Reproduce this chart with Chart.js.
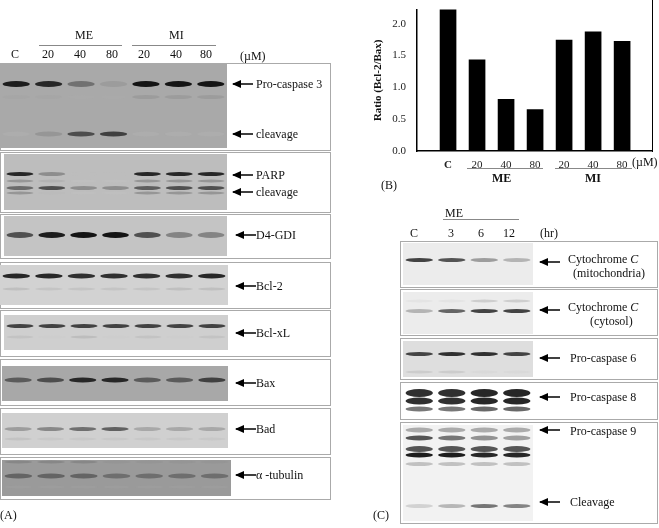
<!DOCTYPE html>
<html>
<head>
<meta charset="utf-8">
<script src="https://cdn.jsdelivr.net/npm/chart.js@4.4.1/dist/chart.umd.min.js"></script>
<style>
body { margin:0; background:#fff; font-family:"Liberation Serif","DejaVu Serif",serif; }
#page { position:relative; width:659px; height:528px; overflow:hidden; }
.t { position:absolute; font-size:12px; color:#111; white-space:nowrap; }
.b { font-weight:bold; }
.ln { position:absolute; background:#888; height:1px; }
</style>
</head>
<body>
<div id="page">
  <canvas id="blots" width="659" height="528" style="position:absolute;left:0;top:0"></canvas>
  <div style="position:absolute;left:370px;top:0;width:289px;height:175px">
    <canvas id="ratio"></canvas>
  </div>
  <div id="labels"></div>
</div>
<script>
// --- Panel B data: Bcl-2/Bax ratio
var groups = ['C', '20', '40', '80', '20', '40', '80'];
var ratioValues = [2.3, 1.43, 0.81, 0.65, 1.74, 1.87, 1.72];
var ratioTicks = [0.0, 0.5, 1.0, 1.5, 2.0];

// --- band intensities per lane (0..1), panel A: C, ME20, ME40, ME80, MI20, MI40, MI80
var procasp3 = [0.9, 0.85, 0.55, 0.3, 0.95, 0.95, 0.95];
var casp3Cleave = [0.1, 0.35, 0.7, 0.75, 0.1, 0.1, 0.1];
var parp = [0.85, 0.45, 0.05, 0.05, 0.85, 0.85, 0.85];
var parpCleave = [0.6, 0.7, 0.45, 0.45, 0.65, 0.7, 0.7];
var d4gdi = [0.7, 0.9, 0.95, 0.95, 0.7, 0.5, 0.5];
var bcl2 = [0.85, 0.85, 0.8, 0.8, 0.8, 0.8, 0.85];
var bclxl = [0.75, 0.75, 0.75, 0.75, 0.75, 0.75, 0.75];
var bax = [0.65, 0.7, 0.85, 0.85, 0.65, 0.65, 0.75];
var bad = [0.4, 0.5, 0.6, 0.65, 0.35, 0.35, 0.35];
var tubulin = [0.6, 0.6, 0.6, 0.55, 0.55, 0.55, 0.55];
// panel C: C, 3, 6, 12 hr
var cytMito = [0.75, 0.7, 0.45, 0.35];
var cytCyto = [0.35, 0.65, 0.75, 0.75];
var procasp6 = [0.75, 0.8, 0.8, 0.75];
var procasp8 = [0.8, 0.8, 0.85, 0.85];
var procasp9 = [0.7, 0.6, 0.5, 0.45];
var casp9Cleave = [0.2, 0.35, 0.6, 0.55];

var ctx2 = document.getElementById('blots').getContext('2d');

function blot(x, y, w, h, bg, lanes, bands) {
    ctx2.fillStyle = bg;
    ctx2.fillRect(x, y, w, h);
    var lw = w / lanes;
    bands.forEach(function (b) {
        b.v.forEach(function (v, i) {
            var cx = x + lw * (i + 0.5), by = y + b.y;
            var g = Math.round(200 - v * 190);
            ctx2.fillStyle = 'rgba(' + g + ',' + g + ',' + g + ',' + Math.min(1, v + 0.2) + ')';
            ctx2.beginPath();
            ctx2.ellipse(cx, by, lw * 0.42, b.t / 2, 0, 0, Math.PI * 2);
            ctx2.fill();
        });
    });
}
function frame(x, y, w, h) {
    ctx2.strokeStyle = '#aaa';
    ctx2.lineWidth = 1;
    ctx2.strokeRect(x + 0.5, y + 0.5, w, h);
}
function arrow(x, y) {
    ctx2.strokeStyle = '#000';
    ctx2.fillStyle = '#000';
    ctx2.lineWidth = 1.5;
    ctx2.beginPath(); ctx2.moveTo(x, y); ctx2.lineTo(x + 20, y); ctx2.stroke();
    ctx2.beginPath(); ctx2.moveTo(x - 1, y); ctx2.lineTo(x + 8, y - 4); ctx2.lineTo(x + 8, y + 4); ctx2.fill();
}
function label(x, y, text, cls) {
    var d = document.createElement('div');
    d.className = 't' + (cls ? ' ' + cls : '');
    d.style.left = x + 'px';
    d.style.top = y + 'px';
    d.innerHTML = text;
    document.getElementById('labels').appendChild(d);
}
function line(x, y, w) {
    var d = document.createElement('div');
    d.className = 'ln';
    d.style.left = x + 'px'; d.style.top = y + 'px'; d.style.width = w + 'px';
    document.getElementById('labels').appendChild(d);
}

// panel A
frame(0, 63, 330, 87);
blot(0, 64, 227, 84, '#a9a9a9', 7, [{y: 20, t: 6, v: procasp3}, {y: 33, t: 4, v: [0.2,0.2,0.15,0.15,0.3,0.3,0.3]}, {y: 70, t: 5, v: casp3Cleave}]);
frame(0, 152, 330, 60);
blot(4, 154, 223, 56, '#bdbdbd', 7, [{y: 20, t: 4, v: parp}, {y: 27, t: 3, v: [0.4,0.2,0,0,0.4,0.4,0.4]}, {y: 34, t: 4, v: parpCleave}, {y: 39, t: 3, v: [0.4,0.1,0,0,0.4,0.4,0.4]}]);
frame(0, 214, 330, 44);
blot(4, 216, 223, 40, '#c4c4c4', 7, [{y: 19, t: 6, v: d4gdi}]);
frame(0, 262, 330, 46);
blot(0, 265, 228, 40, '#d2d2d2', 7, [{y: 11, t: 5, v: bcl2}, {y: 24, t: 3, v: [0.2,0.15,0.15,0.15,0.15,0.2,0.2]}]);
frame(0, 310, 330, 46);
blot(4, 315, 224, 35, '#cfcfcf', 7, [{y: 11, t: 4, v: bclxl}, {y: 22, t: 3, v: [0.15,0,0.2,0,0.15,0,0.15]}]);
frame(0, 359, 330, 46);
blot(2, 366, 226, 35, '#a8a8a8', 7, [{y: 14, t: 5, v: bax}]);
frame(0, 408, 330, 46);
blot(2, 413, 226, 35, '#d0d0d0', 7, [{y: 16, t: 4, v: bad}, {y: 26, t: 3, v: [0.15,0.1,0.1,0.1,0.1,0.1,0.1]}]);
frame(0, 457, 330, 42);
blot(2, 460, 229, 36, '#9a9a9a', 7, [{y: 2, t: 3, v: [0.4,0.4,0.4,0.3,0.3,0.3,0.3]}, {y: 16, t: 5, v: tubulin}, {y: 27, t: 3, v: [0.2,0.2,0.2,0.2,0.2,0.2,0.2]}]);
arrow(233, 84); arrow(233, 134); arrow(233, 175); arrow(233, 192);
arrow(236, 235); arrow(236, 286); arrow(236, 333); arrow(236, 383); arrow(236, 429); arrow(236, 475);

label(11, 47, 'C'); label(42, 47, '20'); label(74, 47, '40'); label(106, 47, '80');
label(138, 47, '20'); label(170, 47, '40'); label(200, 47, '80'); label(240, 49, '(µM)');
label(75, 28, 'ME'); label(169, 28, 'MI');
line(39, 45, 83); line(132, 45, 84);
label(256, 77, 'Pro-caspase 3'); label(256, 127, 'cleavage');
label(256, 168, 'PARP'); label(256, 185, 'cleavage'); label(256, 228, 'D4-GDI');
label(256, 279, 'Bcl-2'); label(256, 326, 'Bcl-xL'); label(256, 376, 'Bax');
label(256, 422, 'Bad'); label(256, 468, 'α -tubulin'); label(0, 508, '(A)');

// panel C
frame(400, 241, 257, 46); blot(403, 243, 130, 42, '#ececec', 4, [{y: 17, t: 4, v: cytMito}]);
frame(400, 289, 257, 46); blot(403, 292, 130, 42, '#ececec', 4, [{y: 9, t: 3, v: [0,0,0.2,0.2]}, {y: 19, t: 4, v: cytCyto}]);
frame(400, 338, 257, 41); blot(403, 341, 130, 36, '#dedede', 4, [{y: 13, t: 4, v: procasp6}, {y: 31, t: 3, v: [0.15,0.15,0,0]}]);
frame(400, 382, 257, 37); blot(403, 385, 130, 31, '#fff', 4, [{y: 8, t: 8, v: procasp8}, {y: 16, t: 7, v: procasp8}, {y: 24, t: 5, v: [0.6,0.6,0.65,0.65]}]);
frame(400, 422, 257, 101); blot(403, 425, 130, 96, '#f2f2f2', 4, [{y: 5, t: 5, v: [0.4,0.4,0.4,0.4]}, {y: 13, t: 5, v: procasp9}, {y: 24, t: 6, v: [0.7,0.7,0.7,0.7]}, {y: 30, t: 5, v: [0.9,0.9,0.85,0.85]}, {y: 39, t: 4, v: [0.3,0.3,0.3,0.3]}, {y: 81, t: 4, v: casp9Cleave}]);
arrow(540, 262); arrow(540, 310); arrow(540, 358); arrow(540, 397); arrow(540, 430); arrow(540, 502);
label(410, 226, 'C'); label(448, 226, '3'); label(478, 226, '6'); label(503, 226, '12'); label(540, 226, '(hr)');
label(445, 206, 'ME'); line(443, 219, 76);
label(568, 252, 'Cytochrome <i>C</i>'); label(573, 266, '(mitochondria)');
label(568, 300, 'Cytochrome <i>C</i>'); label(590, 314, '(cytosol)');
label(570, 351, 'Pro-caspase 6'); label(570, 390, 'Pro-caspase 8'); label(570, 424, 'Pro-caspase 9');
label(570, 495, 'Cleavage'); label(373, 508, '(C)');

// panel B extra labels
line(467, 168, 76); line(555, 168, 77);
label(492, 171, 'ME', 'b'); label(585, 171, 'MI', 'b');
label(632, 155, '(µM)'); label(381, 178, '(B)');
var bdiv = document.createElement('div');
bdiv.style.cssText = 'position:absolute;left:652px;top:0;width:1px;height:152px;background:#000';
document.getElementById('labels').appendChild(bdiv);

new Chart(document.getElementById('ratio'), {
    type: 'bar',
    data: {
        datasets: [{
            data: ratioValues.map(function (v, i) { return { x: i, y: v }; }),
            backgroundColor: '#000',
            barThickness: 16
        }]
    },
    options: {
        responsive: true,
        maintainAspectRatio: false,
        animation: false,
        layout: { padding: { top: 0, right: 7, left: 0, bottom: 0 } },
        plugins: { legend: { display: false }, tooltip: { enabled: false } },
        scales: {
            x: {
                type: 'linear',
                offset: false,
                min: -1.07, max: 7.03,
                afterBuildTicks: function (s) { s.ticks = groups.map(function (g, i) { return { value: i }; }); },
                grid: { display: false },
                border: { color: '#000', width: 1.5 },
                ticks: {
                    color: '#222',
                    padding: 0,
                    autoSkip: false,
                    maxRotation: 0,
                    callback: function (v) { return groups[v]; },
                    font: function (c) { return { family: 'Liberation Serif', size: 11, weight: c.index === 0 ? 'bold' : 'normal' }; }
                },
                afterFit: function (s) { s.height = 24; }
            },
            y: {
                min: 0, max: 2.22,
                afterBuildTicks: function (s) { s.ticks = ratioTicks.map(function (v) { return { value: v }; }); },
                grid: { display: false },
                border: { color: '#000', width: 1.5 },
                ticks: {
                    color: '#222',
                    font: { family: 'Liberation Serif', size: 11 },
                    callback: function (v) { return v.toFixed(1); }
                },
                title: { display: true, text: 'Ratio (Bcl-2/Bax)', color: '#111', font: { family: 'Liberation Serif', size: 11, weight: 'bold' }, padding: 2 },
                afterFit: function (s) { s.width = 47; }
            }
        }
    }
});
</script>
</body>
</html>
